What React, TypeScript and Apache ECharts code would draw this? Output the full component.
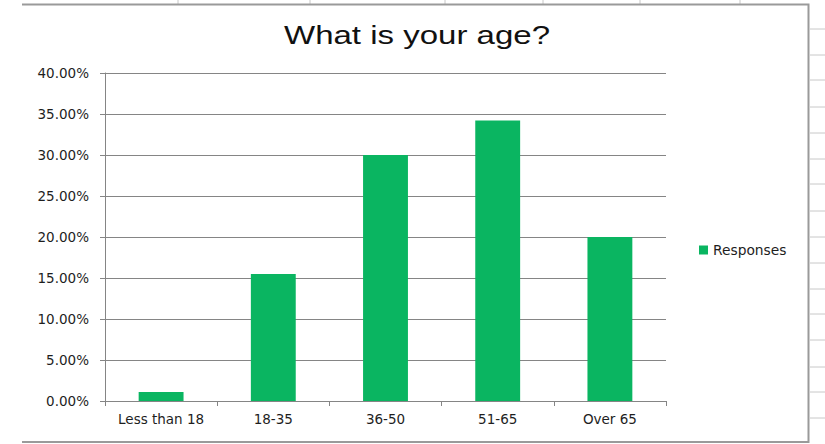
import React, { useEffect, useRef } from "react";
import * as echarts from "echarts";

const categories = ["Less than 18", "18-35", "36-50", "51-65", "Over 65"];
const responses = [1.1, 15.5, 30.0, 34.2, 20.0];
const seriesName = "Responses";
const titleText = "What is your age?";
const yMin = 0;
const yMax = 40;
const yInterval = 5;

const rowLineYs = [29, 55, 80, 107, 133, 159, 184, 211, 237, 263, 289, 314, 340, 367, 392, 418];
const colTickXs = [178, 310, 445, 543, 640, 740];

export default function App() {
  const ref = useRef<HTMLDivElement>(null);
  useEffect(() => {
    if (!ref.current) return;
    const chart = echarts.init(ref.current, null, { renderer: "svg" });
    const lineColor = "#858585";
    const textColor = "#1e1e1e";
    const graphics: any[] = [];
    // sheet decorations
    rowLineYs.forEach((y) =>
      graphics.push({
        type: "line",
        shape: { x1: 810, y1: y, x2: 825, y2: y },
        style: { stroke: "#c8c8c8", lineWidth: 1 },
        silent: true,
      })
    );
    colTickXs.forEach((x) =>
      graphics.push({
        type: "line",
        shape: { x1: x, y1: 0, x2: x, y2: 4 },
        style: { stroke: "#c8c8c8", lineWidth: 1 },
        silent: true,
      })
    );
    // chart area border
    graphics.push({
      type: "polyline",
      shape: { points: [[22, 4.5], [808.5, 4.5], [808.5, 442], [22, 442]] },
      style: { stroke: "#9a9a9a", lineWidth: 2, fill: null },
      silent: true,
    });
    // title
    graphics.push({
      type: "text",
      x: 417,
      y: 35,
      scaleX: 1.27,
      style: {
        text: titleText,
        font: "26px 'Liberation Sans', Arial, sans-serif",
        fill: "#111111",
        align: "center",
        verticalAlign: "middle",
      },
    });

    chart.setOption({
      animation: false,
      backgroundColor: "#ffffff",
      grid: { left: 105, right: 159, top: 73, bottom: 43, containLabel: false },
      legend: {
        data: [seriesName],
        left: 694,
        top: 238,
        orient: "vertical",
        itemWidth: 9,
        itemHeight: 9,
        itemGap: 4,
        icon: "rect",
        textStyle: {
          fontFamily: "'DejaVu Sans', sans-serif",
          fontSize: 13.8,
          color: textColor,
        },
      },
      xAxis: {
        type: "category",
        data: categories,
        axisLine: { show: true, lineStyle: { color: lineColor, width: 1 } },
        axisTick: { show: true, length: 5, lineStyle: { color: lineColor } },
        axisLabel: {
          margin: 11,
          fontFamily: "'DejaVu Sans', sans-serif",
          fontSize: 13.5,
          color: textColor,
        },
      },
      yAxis: {
        type: "value",
        min: yMin,
        max: yMax,
        interval: yInterval,
        axisLine: { show: true, lineStyle: { color: lineColor, width: 1 } },
        axisTick: { show: true, length: 5, lineStyle: { color: lineColor } },
        splitLine: { show: true, lineStyle: { color: lineColor, width: 1 } },
        axisLabel: {
          margin: 16,
          fontFamily: "'DejaVu Sans', sans-serif",
          fontSize: 13.5,
          color: textColor,
          formatter: (v: number) => v.toFixed(2) + "%",
        },
      },
      series: [
        {
          name: seriesName,
          type: "bar",
          data: responses,
          barCategoryGap: "60%",
          itemStyle: { color: "#0ab561" },
        },
      ],
      graphic: graphics,
    });
    return () => chart.dispose();
  }, []);
  return (
    <div
      ref={ref}
      style={{ position: "fixed", left: 0, top: 0, width: 825, height: 444 }}
    />
  );
}
